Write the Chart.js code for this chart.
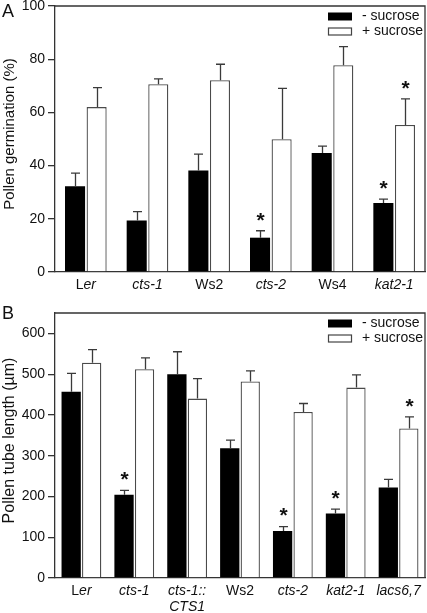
<!DOCTYPE html>
<html>
<head>
<meta charset="utf-8">
<script src="https://cdn.jsdelivr.net/npm/chart.js@4.4.1/dist/chart.umd.min.js"></script>
<style>
  html, body { margin: 0; padding: 0; background: #fff; }
  #wrap { position: relative; width: 427px; height: 613px; overflow: hidden; }
  #boxA { position: absolute; left: 0; top: 0; width: 427px; height: 300px; }
  #boxB { position: absolute; left: 0; top: 300px; width: 427px; height: 313px; }
</style>
</head>
<body>
<div id="wrap">
  <div id="boxA"><canvas id="chartA" width="427" height="300"></canvas></div>
  <div id="boxB"><canvas id="chartB" width="427" height="313"></canvas></div>
</div>
<script>
// ---------- Panel A data: pollen germination (%) ----------
const categoriesA = ['Ler', 'cts-1', 'Ws2', 'cts-2', 'Ws4', 'kat2-1'];
const noSucroseA = [32.2, 19.4, 38.2, 12.9, 44.7, 25.9];
const noSucroseErrA = [5.0, 3.3, 6.1, 2.6, 2.6, 1.5];
const plusSucroseA = [62.0, 70.6, 72.1, 49.9, 77.7, 55.3];
const plusSucroseErrA = [7.3, 2.0, 6.0, 19.1, 7.0, 9.8];
const starNoSucroseA = [false, false, false, true, false, true];
const starPlusSucroseA = [false, false, false, false, false, true];
const yTicksA = [0, 20, 40, 60, 80, 100];

// ---------- Panel B data: pollen tube length (µm) ----------
const categoriesB = ['Ler', 'cts-1', 'cts-1::\nCTS1', 'Ws2', 'cts-2', 'kat2-1', 'lacs6,7'];
const noSucroseB = [457, 204, 500, 318, 115, 158, 222];
const noSucroseErrB = [45, 11, 55, 20, 11, 11, 20];
const plusSucroseB = [528, 512, 440, 482, 407, 467, 367];
const plusSucroseErrB = [32, 28, 49, 26, 21, 31, 28];
const starNoSucroseB = [false, true, false, false, true, true, false];
const starPlusSucroseB = [false, false, false, false, false, false, true];
const yTicksB = [0, 100, 200, 300, 400, 500, 600];

const seriesNames = ['- sucrose', '+ sucrose'];
const FONT = '"Liberation Sans", Arial, Helvetica, sans-serif';
const AXIS = '#333';

// label segments: [text, italic]
function labelSegments(line) {
  if (line === 'Ler') return [['L', false], ['er', true]];
  if (/^Ws\d$/.test(line)) return [[line, false]];
  return [[line, true]];
}

const annotatePlugin = {
  id: 'annotate',
  afterDatasetsDraw(chart, args, opts) {
    const ctx = chart.ctx;
    const yScale = chart.scales.y;
    ctx.save();
    chart.data.datasets.forEach((ds, di) => {
      const meta = chart.getDatasetMeta(di);
      meta.data.forEach((bar, i) => {
        const topVal = ds.data[i] + ds.errors[i];
        const yTop = yScale.getPixelForValue(topVal);
        const x = Math.round(bar.x) + 0.5;
        ctx.strokeStyle = '#3a3a3a';
        ctx.lineWidth = 1.3;
        ctx.beginPath();
        ctx.moveTo(x, bar.y);
        ctx.lineTo(x, yTop);
        ctx.moveTo(x - 4.5, yTop);
        ctx.lineTo(x + 4.5, yTop);
        ctx.stroke();
        if (ds.stars[i]) {
          ctx.fillStyle = '#111';
          ctx.font = 'bold 21px ' + FONT;
          ctx.textAlign = 'center';
          ctx.textBaseline = 'middle';
          ctx.fillText('*', x, yTop - 10);
        }
      });
    });
    ctx.restore();
  },
  afterDraw(chart, args, opts) {
    const ctx = chart.ctx;
    const area = chart.chartArea;
    const xScale = chart.scales.x;
    ctx.save();
    ctx.strokeStyle = AXIS;
    ctx.lineWidth = 1.3;
    ctx.beginPath();
    ctx.moveTo(area.left, area.top);
    ctx.lineTo(area.right, area.top);
    ctx.lineTo(area.right, area.bottom);
    ctx.stroke();

    ctx.fillStyle = '#111';
    ctx.textBaseline = 'middle';
    chart.data.labels.forEach((lab, i) => {
      const cx = xScale.getPixelForValue(i);
      lab.split('\n').forEach((line, li) => {
        const segs = labelSegments(line);
        let total = 0;
        segs.forEach(s => {
          ctx.font = (s[1] ? 'italic ' : '') + '14px ' + FONT;
          total += ctx.measureText(s[0]).width;
        });
        let x = cx - total / 2;
        const y = area.bottom + 13 + li * 16;
        ctx.textAlign = 'left';
        segs.forEach(s => {
          ctx.font = (s[1] ? 'italic ' : '') + '14px ' + FONT;
          ctx.fillText(s[0], x, y);
          x += ctx.measureText(s[0]).width;
        });
      });
    });

    ctx.save();
    ctx.translate(10, (area.top + area.bottom) / 2 - 5);
    ctx.rotate(-Math.PI / 2);
    ctx.font = opts.titleSize + 'px ' + FONT;
    ctx.textAlign = 'center';
    ctx.textBaseline = 'middle';
    ctx.fillStyle = '#111';
    ctx.fillText(opts.yTitle, 0, 0);
    ctx.restore();

    ctx.font = '18px ' + FONT;
    ctx.textAlign = 'left';
    ctx.textBaseline = 'middle';
    ctx.fillStyle = '#111';
    ctx.fillText(opts.letter, 2, opts.letterY);

    const bx = 328, bw = 24, bh = 8, tx = 362;
    chart.data.datasets.forEach((ds, di) => {
      const cy = area.top + 10.5 + di * 15;
      if (di === 0) {
        ctx.fillStyle = '#000';
        ctx.fillRect(bx, cy - bh / 2, bw, bh);
      } else {
        ctx.fillStyle = '#fff';
        ctx.fillRect(bx, cy - bh / 2, bw, bh);
        ctx.strokeStyle = '#444';
        ctx.lineWidth = 1.2;
        ctx.strokeRect(bx + 0.5, cy - bh / 2 + 0.5, bw - 1, bh - 1);
      }
      ctx.fillStyle = '#111';
      ctx.font = '14px ' + FONT;
      ctx.fillText(ds.label, tx, cy);
    });
    ctx.restore();
  }
};

function makeChart(id, cfg) {
  return new Chart(document.getElementById(id), {
    type: 'bar',
    data: {
      labels: cfg.labels,
      datasets: [
        {
          label: seriesNames[0], data: cfg.no, errors: cfg.noErr, stars: cfg.noStar,
          backgroundColor: '#000', borderColor: '#000', borderWidth: 0,
          categoryPercentage: cfg.catPct, barPercentage: cfg.barPct
        },
        {
          label: seriesNames[1], data: cfg.plus, errors: cfg.plusErr, stars: cfg.plusStar,
          backgroundColor: '#fff', borderColor: '#4a4a4a', borderWidth: 1.3,
          categoryPercentage: cfg.catPct, barPercentage: cfg.barPct
        }
      ]
    },
    options: {
      responsive: false,
      animation: false,
      events: [],
      layout: { padding: { top: cfg.top, right: 2, left: 0, bottom: 0 } },
      plugins: {
        legend: { display: false },
        tooltip: { enabled: false },
        annotate: { yTitle: cfg.yTitle, titleSize: cfg.titleSize, letter: cfg.letter, letterY: cfg.letterY }
      },
      scales: {
        x: {
          grid: { display: false, drawTicks: false },
          border: { display: true, color: AXIS, width: 1.3 },
          ticks: { display: false },
          afterFit(s) { s.height = cfg.xHeight; s.paddingLeft = 0; s.paddingRight = 0; }
        },
        y: {
          min: 0, max: cfg.max,
          afterBuildTicks(s) { s.ticks = cfg.yTicks.map(v => ({ value: v })); },
          grid: { display: true, drawOnChartArea: false, drawTicks: true, tickLength: 7, color: AXIS, lineWidth: 1.3 },
          border: { display: true, color: AXIS, width: 1.3 },
          ticks: { padding: 3, color: '#111', font: { family: FONT, size: 14 } },
          afterFit(s) { s.width = 55; s.paddingTop = 0; s.paddingBottom = 0; }
        }
      }
    },
    plugins: [annotatePlugin]
  });
}

makeChart('chartA', {
  labels: categoriesA, no: noSucroseA, noErr: noSucroseErrA, noStar: starNoSucroseA,
  plus: plusSucroseA, plusErr: plusSucroseErrA, plusStar: starPlusSucroseA,
  max: 100, yTicks: yTicksA, catPct: 0.70, barPct: 0.93,
  top: 6, xHeight: 28, yTitle: 'Pollen germination (%)', titleSize: 15, letter: 'A', letterY: 12
});

makeChart('chartB', {
  labels: categoriesB, no: noSucroseB, noErr: noSucroseErrB, noStar: starNoSucroseB,
  plus: plusSucroseB, plusErr: plusSucroseErrB, plusStar: starPlusSucroseB,
  max: 650, yTicks: yTicksB, catPct: 0.776, barPct: 0.94,
  top: 13, xHeight: 35, yTitle: 'Pollen tube length (µm)', titleSize: 16, letter: 'B', letterY: 14
});
</script>
</body>
</html>
